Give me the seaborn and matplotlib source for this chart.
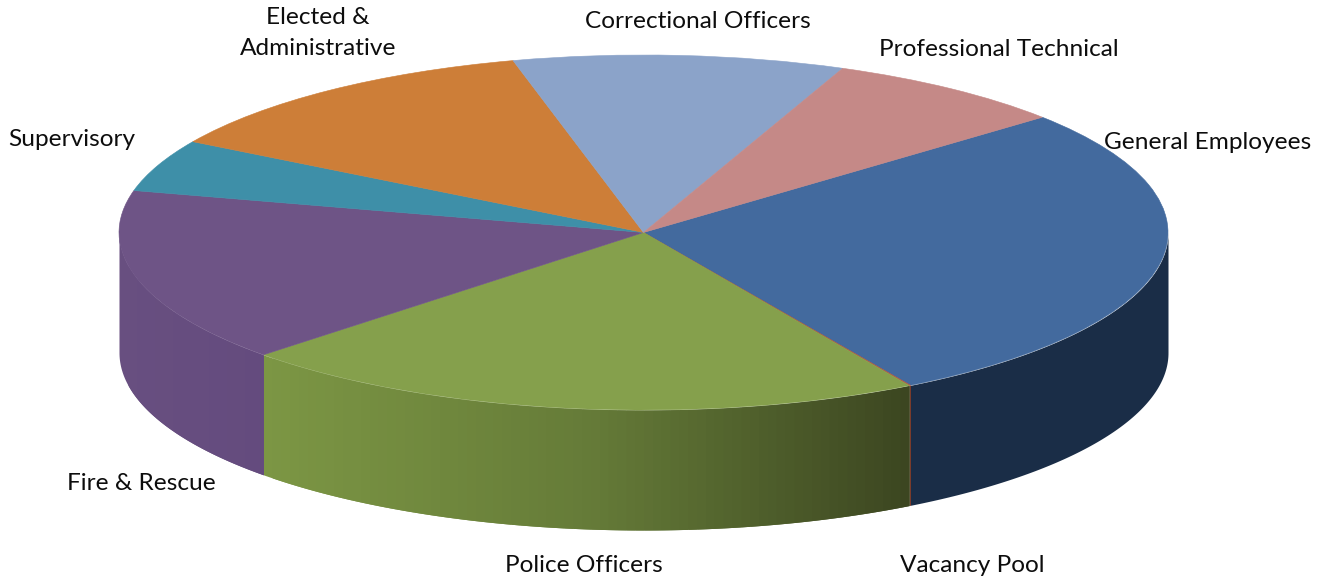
import numpy as np
import seaborn as sns
import matplotlib
matplotlib.use('Agg')
import matplotlib.pyplot as plt

# Share of positions per category (clockwise from the top right)
categories = ['General Employees', 'Vacancy Pool', 'Police Officers', 'Fire & Rescue',
              'Supervisory', 'Elected &\nAdministrative', 'Correctional Officers',
              'Professional Technical']
shares = [27.75, 0.05, 21.35, 15.9, 4.75, 12.45, 10.2, 7.55]
top_colors = ['#436A9E', '#B5563F', '#85A04C', '#6E5486', '#3E8FA8', '#CD7E38', '#8BA3C9', '#C58987']
# colour stops of each side wall, left to right
wall_colors = [['#1A2D47'], ['#7A3A2A'], ['#7C9644', '#657B38', '#3B4520'],
               ['#684F80', '#644B7E'], ['#2E6B7E'], ['#99602A'], ['#6C7F9D'], ['#946664']]
label_px = [(1208, 142), (972, 565), (584, 565), (141, 483), (72, 139), (318, 33), (697.5, 21), (999, 49)]

START_ANGLE = 40.5
WIDTH, HEIGHT = 1327, 579
CX, CY = 643.5, 232.5   # pie centre in pixels
RX, RY = 524.5, 177.5   # pie radii in pixels
DEPTH = 120 / RY

sns.set_theme(style='white')
plt.rcParams['font.family'] = ['Lato', 'DejaVu Sans']

fig = plt.figure(figsize=(WIDTH / 100, HEIGHT / 100), dpi=100)
ax = fig.add_axes([0, 0, 1, 1])

# Top face
wedges, _ = ax.pie(shares, colors=top_colors, startangle=START_ANGLE, counterclock=False, radius=1,
                   wedgeprops={'linewidth': 0.4, 'zorder': 3})
for wedge, color in zip(wedges, top_colors):
    wedge.set_edgecolor(color)

# Side wall, only the front half of the rim shows
fractions = np.array(shares) / sum(shares)
ends = START_ANGLE - np.cumsum(fractions) * 360
starts = np.r_[START_ANGLE, ends[:-1]]
for start, end, stops in zip(starts, ends, wall_colors):
    low, high = np.radians(max(end, -180)), np.radians(min(start, 0))
    if low >= high:
        continue
    x0, x1 = np.cos(low), np.cos(high)
    n = 1 if len(stops) == 1 else int((x1 - x0) * 60)
    edges = np.linspace(x0, x1, n + 1)
    shades = stops if n == 1 else sns.blend_palette(stops, n + 1)
    for i in range(n):
        # each strip runs under the next one so no seams show
        right = edges[min(i + 2, n)]
        angles = np.linspace(np.arccos(edges[i]), np.arccos(right), 120 if n == 1 else 30)
        xs = np.cos(angles)
        rim = -np.sin(angles)
        ax.fill_between(xs, rim, rim - DEPTH, color=shades[i], linewidth=0, zorder=2)

ax.set_aspect('auto')
ax.set_xlim(-CX / RX, (WIDTH - CX) / RX)
ax.set_ylim((CY - HEIGHT) / RY, CY / RY)
ax.axis('off')

for name, (px, py) in zip(categories, label_px):
    fig.text(px / WIDTH, 1 - py / HEIGHT, name, ha='center', va='center',
             fontsize=17.6, color='#0D0D0D', linespacing=1.6, zorder=5)

fig.savefig('out.png', dpi=100)
